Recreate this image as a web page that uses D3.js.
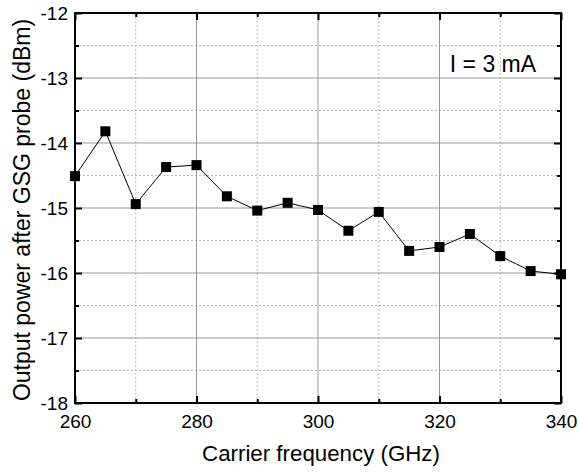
<!DOCTYPE html>
<html>
<head>
<meta charset="utf-8">
<script src="https://cdn.jsdelivr.net/npm/d3@7"></script>
<style>
  body { margin: 0; background: #fff; }
  text { font-family: "Liberation Sans", Arial, sans-serif; fill: #000; }
</style>
</head>
<body>
<div id="chart"></div>
<script>
// data
const freq = [260, 265, 270, 275, 280, 285, 290, 295, 300, 305, 310, 315, 320, 325, 330, 335, 340];
const power = [-14.51, -13.82, -14.94, -14.37, -14.34, -14.82, -15.04, -14.92, -15.03, -15.35, -15.06, -15.66, -15.60, -15.40, -15.74, -15.97, -16.02];
const xTicks = [260, 280, 300, 320, 340];
const yTicks = [-18, -17, -16, -15, -14, -13, -12];
const xMinor = [270, 290, 310, 330];
const yMinor = [-17.5, -16.5, -15.5, -14.5, -13.5, -12.5];

const W = 578, H = 474;
const margin = { top: 13, right: 17, bottom: 71, left: 75 };
const width = W - margin.left - margin.right;
const height = H - margin.top - margin.bottom;

const svg = d3.select('#chart').append('svg')
  .attr('width', W)
  .attr('height', H);

const g = svg.append('g')
  .attr('transform', `translate(${margin.left},${margin.top})`);

const x = d3.scaleLinear().domain([260, 340]).range([0, width]);
const y = d3.scaleLinear().domain([-18, -12]).range([height, 0]);

// minor grid (dotted)
g.selectAll('.vminor').data(xMinor).enter().append('line')
  .attr('x1', d => x(d)).attr('x2', d => x(d))
  .attr('y1', 0).attr('y2', height)
  .attr('stroke', '#bbb').attr('stroke-dasharray', '2,2');
g.selectAll('.hminor').data(yMinor).enter().append('line')
  .attr('y1', d => y(d)).attr('y2', d => y(d))
  .attr('x1', 0).attr('x2', width)
  .attr('stroke', '#bbb').attr('stroke-dasharray', '2,2');

// major grid
g.selectAll('.vmajor').data(xTicks).enter().append('line')
  .attr('x1', d => x(d)).attr('x2', d => x(d))
  .attr('y1', 0).attr('y2', height)
  .attr('stroke', '#999');
g.selectAll('.hmajor').data(yTicks).enter().append('line')
  .attr('y1', d => y(d)).attr('y2', d => y(d))
  .attr('x1', 0).attr('x2', width)
  .attr('stroke', '#999');

// axes with inward ticks
function styleAxis(sel) {
  sel.select('.domain').remove();
  sel.selectAll('.tick line').attr('stroke', '#000').attr('stroke-width', 2);
  sel.selectAll('text').attr('font-size', 19).attr('fill', '#000')
    .style('font-family', '"Liberation Sans", Arial, sans-serif');
}

const xb = g.append('g').attr('transform', `translate(0,${height})`)
  .call(d3.axisBottom(x).tickValues(xTicks).tickSizeInner(-7).tickSizeOuter(0).tickPadding(12).tickFormat(d3.format('d')));
styleAxis(xb);
const xbm = g.append('g').attr('transform', `translate(0,${height})`)
  .call(d3.axisBottom(x).tickValues(xMinor).tickSize(-4).tickFormat(''));
styleAxis(xbm);
const xt = g.append('g')
  .call(d3.axisTop(x).tickValues(xTicks).tickSize(-7).tickFormat(''));
styleAxis(xt);
const xtm = g.append('g')
  .call(d3.axisTop(x).tickValues(xMinor).tickSize(-4).tickFormat(''));
styleAxis(xtm);

const yl = g.append('g')
  .call(d3.axisLeft(y).tickValues(yTicks).tickSizeInner(-7).tickSizeOuter(0).tickPadding(7).tickFormat(d => d3.format('d')(d).replace('\u2212', '-')));
styleAxis(yl);
const ylm = g.append('g')
  .call(d3.axisLeft(y).tickValues(yMinor).tickSize(-4).tickFormat(''));
styleAxis(ylm);
const yr = g.append('g').attr('transform', `translate(${width},0)`)
  .call(d3.axisRight(y).tickValues(yTicks).tickSize(-7).tickFormat(''));
styleAxis(yr);
const yrm = g.append('g').attr('transform', `translate(${width},0)`)
  .call(d3.axisRight(y).tickValues(yMinor).tickSize(-4).tickFormat(''));
styleAxis(yrm);

// frame
g.append('rect')
  .attr('width', width).attr('height', height)
  .attr('fill', 'none').attr('stroke', '#000').attr('stroke-width', 2);

// data line + square markers
const pts = freq.map((f, i) => ({ f: f, p: power[i] }));
g.append('path')
  .datum(pts)
  .attr('fill', 'none').attr('stroke', '#000').attr('stroke-width', 1)
  .attr('d', d3.line().x(d => x(d.f)).y(d => y(d.p)));

g.selectAll('.pt').data(pts).enter().append('rect')
  .attr('x', d => x(d.f) - 5).attr('y', d => y(d.p) - 5)
  .attr('width', 10).attr('height', 10)
  .attr('fill', '#000');

// annotation
g.append('text')
  .attr('x', x(321.7)).attr('y', y(-12.91))
  .attr('font-size', 23)
  .text('I = 3 mA');

// axis titles
svg.append('text')
  .attr('x', 321).attr('y', 461)
  .attr('text-anchor', 'middle').attr('font-size', 22.3)
  .text('Carrier frequency (GHz)');

svg.append('text')
  .attr('transform', `translate(30,${margin.top + height / 2 + 2}) rotate(-90)`)
  .attr('text-anchor', 'middle').attr('font-size', 23)
  .text('Output power after GSG probe (dBm)');
</script>
</body>
</html>
